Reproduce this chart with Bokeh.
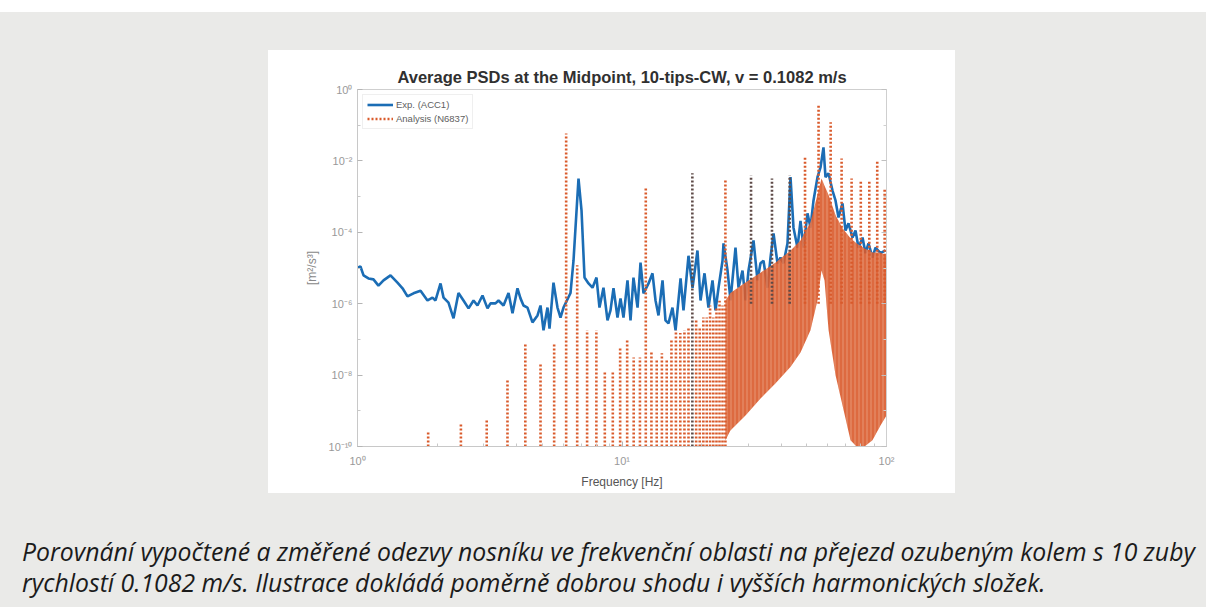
from bokeh.plotting import figure
from bokeh.models import (FixedTicker, CustomJSTickFormatter, Legend, LegendItem,
                          LogAxis, Div)
from bokeh.layouts import column, row
from bokeh.embed import file_html
from bokeh.resources import INLINE

# ---------------- data ----------------
# Measured PSD, Exp. (ACC1): frequency [Hz], PSD [m^2/s^3]
exp_freq = [1.00, 1.026, 1.054, 1.100, 1.149, 1.200, 1.254, 1.333, 1.416, 1.480,
            1.545, 1.628, 1.731, 1.839, 1.921, 1.972, 2.060, 2.115, 2.208, 2.307,
            2.409, 2.516, 2.629, 2.746, 2.842, 2.969, 3.101, 3.183, 3.324, 3.413,
            3.565, 3.724, 3.855, 4.026, 4.133, 4.242, 4.392, 4.587, 4.793, 4.919,
            5.049, 5.228, 5.320, 5.508, 5.703, 5.854, 6.009, 6.388, 6.556, 6.848,
            7.030, 7.216, 7.471, 7.736, 8.009, 8.220, 8.511, 8.814, 9.047, 9.287,
            9.616, 9.870, 10.13, 10.49, 10.77, 11.05, 11.45, 11.75, 12.06, 12.60,
            13.04, 13.39, 13.74, 14.23, 14.60, 14.99, 15.52, 15.94, 16.65, 17.08,
            17.84, 18.48, 19.29, 19.81, 20.51, 21.23, 21.99, 22.57, 23.17, 23.99,
            24.20, 25.06, 25.72, 26.86, 27.57, 28.55, 29.31, 30.08, 31.42, 32.53,
            33.39, 34.28, 35.49, 36.43, 37.40, 38.72, 39.74, 40.79, 42.24, 43.36,
            44.50, 46.08, 47.30, 48.56, 50.27, 51.60, 52.97, 54.84, 56.30, 57.78,
            58.80, 60.35, 62.49, 64.15, 65.85, 68.18, 69.98, 71.84, 74.39, 76.35,
            78.37, 81.18, 83.27, 85.49, 88.52, 90.86, 94.91, 99.13]
exp_psd = [1.02e-5, 1.10e-5, 6.2e-6, 5.1e-6, 4.8e-6, 3.2e-6, 4.5e-6, 6.2e-6, 3.9e-6, 2.7e-6,
           1.6e-6, 1.95e-6, 2.3e-6, 1.23e-6, 1.48e-6, 1.23e-6, 3.7e-6, 1.48e-6, 1.07e-6, 3.9e-7,
           2.0e-6, 1.23e-6, 7.4e-7, 1.23e-6, 8.9e-7, 1.7e-6, 7.4e-7, 1.02e-6, 1.02e-6, 1.23e-6,
           8.9e-7, 2.0e-6, 5.4e-7, 2.7e-6, 1.41e-6, 8.9e-7, 7.8e-7, 3.0e-7, 4.7e-7, 8.9e-7,
           1.8e-7, 7.8e-7, 2.0e-7, 3.9e-6, 7.8e-7, 4.1e-7, 7.8e-7, 2.0e-6, 1.6e-5, 3.2e-3,
           4.1e-4, 5.4e-6, 3.7e-6, 2.8e-6, 5.4e-6, 7.8e-7, 2.8e-6, 3.4e-7, 6.5e-7, 2.7e-6,
           4.1e-7, 1.41e-6, 4.1e-7, 4.5e-6, 3.4e-7, 5.4e-6, 7.8e-7, 1.41e-5, 1.95e-6, 3.7e-6,
           7.1e-6, 1.23e-6, 4.7e-7, 4.5e-6, 3.4e-7, 2.8e-7, 7.8e-7, 1.8e-7, 5.1e-6, 6.5e-7,
           2.2e-5, 2.8e-6, 3.1e-5, 1.23e-6, 7.1e-6, 7.8e-7, 4.5e-6, 6.5e-7, 2.8e-6, 1.6e-5,
           4.9e-5, 8.5e-6, 1.23e-6, 3.7e-5, 2.8e-6, 8.5e-6, 1.23e-6, 8.5e-6, 5.9e-5, 4.5e-6,
           1.35e-5, 1.6e-5, 2.8e-6, 1.95e-5, 9.3e-5, 1.35e-5, 1.95e-5, 1.35e-5, 4.9e-5, 3.5e-3,
           1.35e-4, 3.7e-5, 2.1e-4, 3.7e-5, 3.4e-4, 1.35e-4, 7.8e-4, 3.5e-3, 6.6e-3, 2.4e-2,
           3.5e-3, 4.5e-3, 1.48e-3, 7.8e-4, 2.6e-4, 6.5e-4, 1.12e-4, 1.78e-4, 7.1e-5, 1.12e-4,
           3.7e-5, 7.1e-5, 2.6e-5, 4.9e-5, 1.95e-5, 3.7e-5, 2.6e-5, 3.1e-5]

# Analysis (N6837): harmonic peaks of the tooth-passing frequency (low range)
harm_freq = [1.85, 2.46, 3.08, 3.69, 4.31, 4.92, 5.54, 6.15, 6.77, 7.38,
             8.00, 8.61, 9.23, 9.84, 10.46, 11.07, 11.69, 12.30, 12.92, 13.53,
             14.15, 14.76, 15.38, 15.99, 16.61, 17.22, 17.84, 18.45, 19.07, 19.68,
             20.30, 20.91, 21.53, 22.14, 22.76, 23.37, 23.99, 24.60]
harm_peak = [2.8e-10, 4.7e-10, 5.4e-10, 7.1e-9, 8.1e-8, 2.1e-8, 8.1e-8, 5.9e-2, 1.2e-5, 1.8e-7,
             1.8e-7, 1.35e-8, 1.2e-8, 5.9e-8, 9.3e-8, 3.1e-8, 3.1e-8, 1.8e-3, 4.9e-8, 2.6e-8,
             4.1e-8, 2.6e-8, 9.3e-8, 1.8e-7, 1.5e-7, 1.8e-7, 2.1e-7, 4.5e-3, 3.4e-7, 2.1e-7,
             4.1e-7, 4.1e-7, 8.9e-7, 4.1e-7, 7.8e-7, 1.2e-6, 8.9e-7, 3.2e-3]

# Analysis: tall harmonic peaks in the dense range
tall_freq = [30.75, 36.9, 43.05, 49.2, 55.35, 61.5, 67.65, 73.8, 79.95, 86.1, 92.25, 98.4]
tall_peak = [3.9e-3, 3.2e-3, 3.9e-3, 1.26e-2, 0.355, 0.12, 1.17e-2, 3.2e-3, 2.8e-3, 2.8e-3,
             1.02e-2, 1.7e-3]

# Analysis: envelope of the dense comb of harmonics
dense_freq = [24.6, 25.7, 29.3, 33.4, 38.0, 43.4, 47.3, 51.6, 54.8, 56.8,
              58.3, 60.4, 64.2, 68.2, 73.1, 77.0, 82.6, 88.5, 94.9, 100.0]
dense_lower = [1.5e-10, 2.8e-10, 7.4e-10, 2.2e-9, 5.8e-9, 1.7e-8, 4.3e-8, 1.8e-7, 1.2e-6, 8.5e-6,
               4.5e-6, 1.8e-7, 9.8e-9, 1.4e-9, 1.5e-10, 1.0e-10, 1.0e-10, 1.5e-10, 3.9e-10, 7.4e-10]
dense_upper = [1.2e-6, 2.0e-6, 3.9e-6, 7.4e-6, 1.4e-5, 3.1e-5, 5.9e-5, 1.9e-4, 1.1e-3, 3.2e-3,
               2.0e-3, 1.1e-3, 3.0e-4, 1.3e-4, 6.8e-5, 4.9e-5, 3.5e-5, 2.7e-5, 2.7e-5, 2.2e-5]

x_ticks = [1, 10, 100]
x_minor = [2, 3, 4, 5, 6, 7, 8, 9, 20, 30, 40, 50, 60, 70, 80, 90]
y_ticks = [1e-10, 1e-8, 1e-6, 1e-4, 1e-2, 1]
y_minor = [1e-9, 1e-7, 1e-5, 1e-3, 1e-1]

title_text = "Average PSDs at the Midpoint, 10-tips-CW, v = 0.1082 m/s"
caption1 = "Porovnání vypočtené a změřené odezvy nosníku ve frekvenční oblasti na přejezd ozubeným kolem s 10 zuby"
caption2 = "rychlostí 0.1082 m/s. Ilustrace dokládá poměrně dobrou shodu i vyšších harmonických složek."

# ---------------- styling ----------------
BLUE = "#1b6db5"
RED = "#d95a2b"
DARK = "#5e4a47"
PAGE = "#eaeae8"
FLOOR = 1e-10

p = figure(width=687, height=443, x_axis_type="log", y_axis_type="log",
           x_range=(1, 100), y_range=(1e-10, 1),
           output_backend="svg", toolbar_location=None,
           min_border_left=89, min_border_right=69, min_border_top=39, min_border_bottom=47,
           background_fill_color="white", border_fill_color="white")
p.grid.visible = False
p.outline_line_color = "#cfcfcf"

p.title.text = title_text
p.title.align = "center"
p.title.text_font = "Liberation Sans"
p.title.text_font_size = "16.5px"
p.title.text_font_style = "bold"
p.title.text_color = "#303030"
p.title.standoff = 7

fmt = CustomJSTickFormatter(code="""
const e = Math.round(Math.log10(tick));
const m = {'-':'\u207b','0':'\u2070','1':'\u00b9','2':'\u00b2','3':'\u00b3','4':'\u2074',
           '5':'\u2075','6':'\u2076','7':'\u2077','8':'\u2078','9':'\u2079'};
return '10' + String(e).split('').map(c => m[c]).join('');
""")

for ax, tk, mn in ((p.xaxis[0], x_ticks, x_minor), (p.yaxis[0], y_ticks, y_minor)):
    ax.ticker = FixedTicker(ticks=tk, minor_ticks=mn)
    ax.formatter = fmt
    ax.axis_line_color = "#c8c8c8"
    ax.major_tick_line_color = "#b5b5b5"
    ax.minor_tick_line_color = "#c8c8c8"
    ax.major_tick_in = 5
    ax.major_tick_out = 0
    ax.minor_tick_in = 3
    ax.minor_tick_out = 0
    ax.major_label_text_font = "Liberation Sans"
    ax.major_label_text_font_size = "11px"
    ax.major_label_text_color = "#999999"

p.xaxis.major_label_standoff = 8
p.yaxis.major_label_standoff = 5
p.xaxis.axis_label = "Frequency [Hz]"
p.xaxis.axis_label_text_font = "Liberation Sans"
p.xaxis.axis_label_text_font_size = "12px"
p.xaxis.axis_label_text_font_style = "normal"
p.xaxis.axis_label_text_color = "#555555"
p.xaxis.axis_label_standoff = 5
p.yaxis.axis_label = "[m²/s³]"
p.yaxis.axis_label_text_font = "Liberation Sans"
p.yaxis.axis_label_text_font_size = "12px"
p.yaxis.axis_label_text_font_style = "normal"
p.yaxis.axis_label_text_color = "#888888"
p.yaxis.axis_label_standoff = 7

raxis = LogAxis(ticker=FixedTicker(ticks=y_ticks, minor_ticks=y_minor),
                major_label_text_font_size="8px", major_label_text_alpha=0.0,
                major_label_standoff=0, axis_line_color="#cfcfcf",
                major_tick_in=5, major_tick_out=0, minor_tick_in=3, minor_tick_out=0,
                major_tick_line_color="#c0c0c0", minor_tick_line_color="#d0d0d0")
p.add_layout(raxis, "right")

# measured
r_exp = p.line(exp_freq, exp_psd, line_color=BLUE, line_width=2.6)

# analysis: dense comb envelope (textured like the overlapping dotted spikes)
p.varea(x=dense_freq, y1=dense_lower, y2=dense_upper, fill_color=RED, fill_alpha=0.9,
        hatch_pattern="vertical_line", hatch_color="#f4c9b4", hatch_alpha=0.45,
        hatch_scale=4, hatch_weight=1)

# analysis: individual harmonic spikes
harm_colors = [RED] * len(harm_freq)
harm_colors[27] = DARK
r_harm = p.segment(x0=harm_freq, y0=[FLOOR] * len(harm_freq), x1=harm_freq, y1=harm_peak,
                   line_color=harm_colors, line_width=2.6, line_dash="2 2")
tall_colors = [DARK, DARK, DARK] + [RED] * (len(tall_freq) - 3)
p.segment(x0=tall_freq, y0=[1e-6] * len(tall_freq), x1=tall_freq, y1=tall_peak,
          line_color=tall_colors, line_width=2.6, line_dash="2 2")

legend = Legend(items=[LegendItem(label="Exp. (ACC1)", renderers=[r_exp]),
                       LegendItem(label="Analysis (N6837)", renderers=[r_harm])],
                location="top_left", margin=5, padding=4, spacing=3,
                label_text_font="Liberation Sans", label_text_font_size="9.5px",
                label_text_color="#606060", label_height=11, glyph_height=11,
                glyph_width=26, label_standoff=3,
                border_line_color="#e0e0e0", background_fill_color="white",
                background_fill_alpha=1.0)
p.add_layout(legend)

# ---------------- page layout ----------------
def gray(w, h):
    return Div(text="", width=w, height=h, margin=0,
               styles={"background-color": PAGE})

top_white = Div(text="", width=1206, height=12, margin=0, styles={"background-color": "white"})
top = gray(1206, 38)
mid = row(gray(268, 443), p, gray(251, 443), spacing=0)
cap_html = ('<div style="padding:43px 0 0 22px;font-family:\'Open Sans\';font-style:italic;'
            'font-size:24.8px;line-height:31px;color:#1b1b1b;white-space:nowrap">'
            + caption1 + '<br>' + caption2 + '</div>')
cap = Div(text=cap_html, width=1206, height=114, margin=0,
          styles={"background-color": PAGE})
page = column(top_white, top, mid, cap, spacing=0)

open("out.html", "w").write(file_html(page, INLINE))
